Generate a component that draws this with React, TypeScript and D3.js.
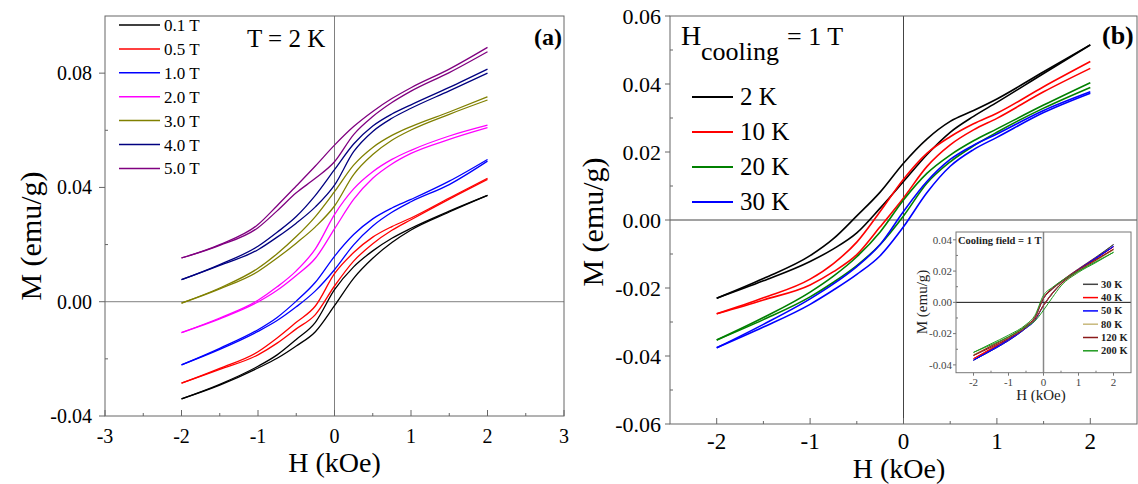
import React from "react";
import * as d3 from "d3";

const FONT = '"Liberation Serif", "Times New Roman", "DejaVu Serif", serif';

// ---------- Panel (a): T = 2 K, different cooling fields ----------
const gridA = [-2, -1.5, -1, -0.75, -0.5, -0.25, 0, 0.25, 0.5, 0.75, 1, 1.5, 2];
const labelsA = ["0.1 T", "0.5 T", "1.0 T", "2.0 T", "3.0 T", "4.0 T", "5.0 T"];
const colorsA = ["#000000", "#ff0000", "#0000ff", "#ff00ff", "#808000", "#000080", "#800080"];
// upper (field-decreasing) and lower (field-increasing) branches
const a01Up = [-0.034, -0.0289, -0.0226, -0.0186, -0.0132, -0.0072, 0.0042, 0.0122, 0.0178, 0.0222, 0.0257, 0.0317, 0.0372];
const a01Lo = [-0.034, -0.0292, -0.0232, -0.0198, -0.0155, -0.0105, -0.0014, 0.0082, 0.0152, 0.0207, 0.0251, 0.0314, 0.0372];
const a05Up = [-0.0285, -0.0233, -0.0175, -0.0127, -0.0072, -0.0015, 0.0098, 0.0172, 0.0226, 0.0263, 0.0293, 0.0363, 0.0432];
const a05Lo = [-0.0285, -0.0237, -0.0186, -0.0145, -0.0095, -0.0045, 0.0055, 0.0142, 0.0203, 0.025, 0.0287, 0.0359, 0.0428];
const a10Up = [-0.0221, -0.0163, -0.0098, -0.0055, 0.0002, 0.0068, 0.0159, 0.0235, 0.029, 0.0328, 0.0358, 0.0422, 0.0498];
const a10Lo = [-0.0221, -0.0167, -0.0104, -0.0066, -0.0018, 0.0038, 0.0112, 0.0199, 0.0265, 0.0313, 0.035, 0.041, 0.0492];
const a20Up = [-0.0108, -0.0057, 0.0005, 0.0052, 0.0108, 0.0185, 0.0305, 0.0395, 0.0455, 0.0498, 0.053, 0.058, 0.0618];
const a20Lo = [-0.0108, -0.006, -0.0001, 0.004, 0.0092, 0.0152, 0.0255, 0.0358, 0.0432, 0.0482, 0.0519, 0.0568, 0.0609];
const a30Up = [-0.0005, 0.0048, 0.0117, 0.0168, 0.0228, 0.0298, 0.0385, 0.0478, 0.054, 0.0582, 0.0613, 0.0664, 0.0717];
const a30Lo = [-0.0005, 0.0045, 0.0106, 0.0153, 0.0205, 0.0262, 0.0335, 0.0445, 0.0515, 0.0565, 0.0601, 0.0656, 0.0706];
const a40Up = [0.0077, 0.013, 0.0194, 0.0243, 0.0298, 0.0372, 0.0462, 0.0552, 0.0615, 0.0657, 0.0689, 0.075, 0.0814];
const a40Lo = [0.0077, 0.0127, 0.0182, 0.0226, 0.0275, 0.0332, 0.0408, 0.0525, 0.0596, 0.0642, 0.0677, 0.0738, 0.08];
const a50Up = [0.0153, 0.02, 0.027, 0.0336, 0.0405, 0.0475, 0.0548, 0.0613, 0.0666, 0.0711, 0.0749, 0.0814, 0.089];
const a50Lo = [0.0153, 0.0197, 0.0259, 0.0318, 0.0381, 0.0432, 0.049, 0.0585, 0.0648, 0.0697, 0.0737, 0.0802, 0.0875];
const seriesA = [
  [a01Up, a01Lo], [a05Up, a05Lo], [a10Up, a10Lo], [a20Up, a20Lo],
  [a30Up, a30Lo], [a40Up, a40Lo], [a50Up, a50Lo],
];
const xTicksA = [-3, -2, -1, 0, 1, 2, 3];
const xMinorA = [-2.5, -1.5, -0.5, 0.5, 1.5, 2.5];
const yTicksA = [-0.04, 0, 0.04, 0.08];
const yMinorA = [-0.02, 0.02, 0.06];

// ---------- Panel (b): H_cooling = 1 T, different temperatures ----------
const gridB = [-2, -1.5, -1, -0.75, -0.5, -0.25, 0, 0.25, 0.5, 0.75, 1, 1.5, 2];
const labelsB = ["2 K", "10 K", "20 K", "30 K"];
const colorsB = ["#000000", "#ff0000", "#008000", "#0000ff"];
const b2Up = [-0.023, -0.0172, -0.0105, -0.0055, 0.0012, 0.0082, 0.0167, 0.0238, 0.029, 0.0322, 0.0356, 0.0436, 0.0515];
const b2Lo = [-0.023, -0.0179, -0.0122, -0.0085, -0.0038, 0.0035, 0.0113, 0.0192, 0.0258, 0.0305, 0.0346, 0.0431, 0.0515];
const b10Up = [-0.0276, -0.0229, -0.0174, -0.0128, -0.0065, 0.0025, 0.012, 0.0196, 0.0245, 0.0283, 0.0314, 0.0392, 0.0466];
const b10Lo = [-0.0276, -0.0235, -0.0191, -0.0152, -0.0102, -0.002, 0.0065, 0.0157, 0.0221, 0.0265, 0.0299, 0.0377, 0.0446];
const b20Up = [-0.0353, -0.0287, -0.0212, -0.0165, -0.0108, -0.0035, 0.0059, 0.0137, 0.0191, 0.0233, 0.0268, 0.0338, 0.0404];
const b20Lo = [-0.0353, -0.0293, -0.0226, -0.0183, -0.0134, -0.0072, 0.0012, 0.0108, 0.0171, 0.0218, 0.0258, 0.0329, 0.039];
const b30Up = [-0.0376, -0.0307, -0.0232, -0.0188, -0.0137, -0.0072, 0.0025, 0.0113, 0.0178, 0.022, 0.0253, 0.0322, 0.0377];
const b30Lo = [-0.0376, -0.0315, -0.0248, -0.0206, -0.016, -0.0105, -0.002, 0.008, 0.0158, 0.0207, 0.0243, 0.0316, 0.0373];
const seriesB = [[b2Up, b2Lo], [b10Up, b10Lo], [b20Up, b20Lo], [b30Up, b30Lo]];
const xTicksB = [-2, -1, 0, 1, 2];
const xMinorB = [-1.5, -0.5, 0.5, 1.5];
const yTicksB = [-0.06, -0.04, -0.02, 0, 0.02, 0.04, 0.06];
const yMinorB = [-0.05, -0.03, -0.01, 0.01, 0.03, 0.05];

// ---------- Inset: cooling field = 1 T, higher temperatures ----------
const gridI = [-2, -1.5, -1, -0.5, -0.25, 0, 0.25, 0.5, 1, 1.5, 2];
const labelsI = ["30 K", "40 K", "50 K", "80 K", "120 K", "200 K"];
const colorsI = ["#444444", "#ff0000", "#0000ff", "#c8b97c", "#8b1a1a", "#1f9a1f"];
const i30Up = [-0.037, -0.03, -0.0235, -0.0155, -0.01, 0.003, 0.009, 0.0135, 0.0215, 0.029, 0.037];
const i30Lo = [-0.037, -0.031, -0.0245, -0.0165, -0.0115, -0.002, 0.006, 0.012, 0.021, 0.0285, 0.037];
const i40Up = [-0.036, -0.0295, -0.023, -0.015, -0.0098, 0.0028, 0.0088, 0.0133, 0.0212, 0.0285, 0.0355];
const i40Lo = [-0.036, -0.0302, -0.024, -0.016, -0.0112, -0.0018, 0.0058, 0.0118, 0.0205, 0.028, 0.0355];
const i50Up = [-0.037, -0.0305, -0.0238, -0.0155, -0.0102, 0.0025, 0.0085, 0.013, 0.021, 0.0285, 0.0358];
const i50Lo = [-0.037, -0.031, -0.0245, -0.0165, -0.0118, -0.002, 0.0055, 0.0118, 0.0205, 0.028, 0.0358];
const i80Up = [-0.0335, -0.0278, -0.022, -0.0148, -0.0098, 0.0025, 0.0082, 0.0128, 0.0205, 0.027, 0.0335];
const i80Lo = [-0.0335, -0.0285, -0.0228, -0.0158, -0.011, -0.002, 0.0055, 0.0115, 0.0198, 0.0265, 0.0335];
const i120Up = [-0.034, -0.028, -0.0222, -0.015, -0.0098, 0.0025, 0.0085, 0.013, 0.0208, 0.0275, 0.034];
const i120Lo = [-0.034, -0.0288, -0.023, -0.016, -0.011, -0.002, 0.0055, 0.0118, 0.02, 0.027, 0.034];
const i200Up = [-0.032, -0.0265, -0.021, -0.0142, -0.0085, 0.0045, 0.0095, 0.0135, 0.02, 0.026, 0.032];
const i200Lo = [-0.032, -0.0272, -0.022, -0.0155, -0.012, -0.005, 0.003, 0.0105, 0.0192, 0.0255, 0.032];
const seriesI = [
  [i30Up, i30Lo], [i40Up, i40Lo], [i50Up, i50Lo],
  [i80Up, i80Lo], [i120Up, i120Lo], [i200Up, i200Lo],
];
const xTicksI = [-2, -1, 0, 1, 2];
const xMinorI = [-1.5, -0.5, 0.5, 1.5];
const yTicksI = [-0.04, -0.02, 0, 0.02, 0.04];
const yMinorI = [-0.03, -0.01, 0.01, 0.03];

const fmt2 = (v: number) => (Math.abs(v) < 1e-9 ? "0.00" : v.toFixed(2));
const fmtInt = (v: number) => String(Math.round(v));

function branchPath(x: any, y: any, grid: number[], vals: number[]) {
  const line = d3
    .line<number>()
    .x((_, i) => x(grid[i]))
    .y((d) => y(d))
    .curve(d3.curveMonotoneX);
  return line(vals) || "";
}

export default function App() {
  const xA = d3.scaleLinear().domain([-3, 3]).range([105, 564]);
  const yA = d3.scaleLinear().domain([-0.04, 0.1]).range([416, 16]);
  const xB = d3.scaleLinear().domain([-2.5, 2.5]).range([670, 1137]);
  const yB = d3.scaleLinear().domain([-0.06, 0.06]).range([424, 16]);
  const xI = d3.scaleLinear().domain([-2.5, 2.5]).range([956, 1131]);
  const yI = d3.scaleLinear().domain([-0.045, 0.045]).range([372.7, 232]);

  const frame = "#666666";

  return (
    <svg
      width={1138}
      height={484}
      style={{ position: "absolute", left: 0, top: 0, background: "#ffffff", fontFamily: FONT }}
      fontFamily={FONT}
    >
      <style>{`text { font-family: ${FONT}; }`}</style>
      <rect x={0} y={0} width={1138} height={484} fill="#ffffff" />

      {/* ================= Panel (a) ================= */}
      <g>
        <line x1={xA(0)} x2={xA(0)} y1={yA(0.1)} y2={yA(-0.04)} stroke="#808080" strokeWidth={1} />
        <line x1={xA(-3)} x2={xA(3)} y1={yA(0)} y2={yA(0)} stroke="#808080" strokeWidth={1} />
        {seriesA.map((s, k) => (
          <g key={k} fill="none" stroke={colorsA[k]} strokeWidth={1.3}>
            <path d={branchPath(xA, yA, gridA, s[0])} />
            <path d={branchPath(xA, yA, gridA, s[1])} />
          </g>
        ))}
        <rect x={xA(-3)} y={yA(0.1)} width={xA(3) - xA(-3)} height={yA(-0.04) - yA(0.1)} fill="none" stroke={frame} strokeWidth={1} />
        {xTicksA.map((t) => (
          <g key={"xa" + t}>
            <line x1={xA(t)} x2={xA(t)} y1={yA(-0.04)} y2={yA(-0.04) - 6} stroke={frame} />
            <text x={xA(t)} y={443} fontSize={20} textAnchor="middle" fill="#000">{fmtInt(t)}</text>
          </g>
        ))}
        {xMinorA.map((t) => (
          <line key={"xam" + t} x1={xA(t)} x2={xA(t)} y1={yA(-0.04)} y2={yA(-0.04) - 3} stroke={frame} />
        ))}
        {yTicksA.map((t) => (
          <g key={"ya" + t}>
            <line x1={xA(-3) - 6} x2={xA(-3)} y1={yA(t)} y2={yA(t)} stroke={frame} />
            <text x={92} y={yA(t)} dy="0.35em" fontSize={20} textAnchor="end" fill="#000">{fmt2(t)}</text>
          </g>
        ))}
        {yMinorA.map((t) => (
          <line key={"yam" + t} x1={xA(-3)} x2={xA(-3) + 3} y1={yA(t)} y2={yA(t)} stroke={frame} />
        ))}
        <text x={xA(0)} y={472} fontSize={28} textAnchor="middle">H (kOe)</text>
        <text transform={`translate(41, ${236}) rotate(-90)`} fontSize={30} textAnchor="middle">M (emu/g)</text>
        {labelsA.map((lab, k) => {
          const ly = 25 + k * 23.9;
          return (
            <g key={"la" + k}>
              <line x1={119} x2={160} y1={ly} y2={ly} stroke={colorsA[k]} strokeWidth={1.5} />
              <text x={164} y={ly + 6} fontSize={17}>{lab}</text>
            </g>
          );
        })}
        <text x={247} y={47} fontSize={25}>T = 2 K</text>
        <text x={534} y={45} fontSize={24} fontWeight="bold">(a)</text>
      </g>

      {/* ================= Panel (b) ================= */}
      <g>
        <line x1={xB(0)} x2={xB(0)} y1={yB(0.06)} y2={yB(-0.06)} stroke="#444444" strokeWidth={1} />
        <line x1={xB(-2.5)} x2={xB(2.5)} y1={yB(0)} y2={yB(0)} stroke="#444444" strokeWidth={1} />
        {seriesB.map((s, k) => (
          <g key={k} fill="none" stroke={colorsB[k]} strokeWidth={1.6}>
            <path d={branchPath(xB, yB, gridB, s[0])} />
            <path d={branchPath(xB, yB, gridB, s[1])} />
          </g>
        ))}
        <rect x={xB(-2.5)} y={yB(0.06)} width={xB(2.5) - xB(-2.5)} height={yB(-0.06) - yB(0.06)} fill="none" stroke={frame} strokeWidth={1} />
        {xTicksB.map((t) => (
          <g key={"xb" + t}>
            <line x1={xB(t)} x2={xB(t)} y1={yB(-0.06)} y2={yB(-0.06) - 6} stroke={frame} />
            <text x={xB(t)} y={449} fontSize={23} textAnchor="middle">{fmtInt(t)}</text>
          </g>
        ))}
        {xMinorB.map((t) => (
          <line key={"xbm" + t} x1={xB(t)} x2={xB(t)} y1={yB(-0.06)} y2={yB(-0.06) - 3} stroke={frame} />
        ))}
        {yTicksB.map((t) => (
          <g key={"yb" + t}>
            <line x1={xB(-2.5) - 5} x2={xB(-2.5)} y1={yB(t)} y2={yB(t)} stroke={frame} />
            <text x={661} y={yB(t)} dy="0.35em" fontSize={22} textAnchor="end">{fmt2(t)}</text>
          </g>
        ))}
        {yMinorB.map((t) => (
          <line key={"ybm" + t} x1={xB(-2.5)} x2={xB(-2.5) + 3} y1={yB(t)} y2={yB(t)} stroke={frame} />
        ))}
        <text x={899} y={478} fontSize={28} textAnchor="middle">H (kOe)</text>
        <text transform={`translate(603, ${222}) rotate(-90)`} fontSize={30} textAnchor="middle">M (emu/g)</text>
        <text x={681} y={45} fontSize={28}>H</text>
        <text x={701} y={60} fontSize={26}>cooling</text>
        <text x={787} y={45} fontSize={26}>= 1 T</text>
        {labelsB.map((lab, k) => {
          const ly = 97 + k * 35;
          return (
            <g key={"lb" + k}>
              <line x1={692} x2={733} y1={ly} y2={ly} stroke={colorsB[k]} strokeWidth={1.8} />
              <text x={740} y={ly + 8} fontSize={25}>{lab}</text>
            </g>
          );
        })}
        <text x={1102} y={44} fontSize={26} fontWeight="bold">(b)</text>
      </g>

      {/* ================= Inset ================= */}
      <g>
        <rect x={xI(-2.5)} y={yI(0.045)} width={xI(2.5) - xI(-2.5)} height={yI(-0.045) - yI(0.045)} fill="#ffffff" />
        <line x1={xI(0)} x2={xI(0)} y1={yI(0.045)} y2={yI(-0.045)} stroke="#888888" strokeWidth={1.5} />
        <line x1={xI(-2.5)} x2={xI(2.5)} y1={yI(0)} y2={yI(0)} stroke="#111111" strokeWidth={1} />
        {seriesI.map((s, k) => (
          <g key={k} fill="none" stroke={colorsI[k]} strokeWidth={1}>
            <path d={branchPath(xI, yI, gridI, s[0])} />
            <path d={branchPath(xI, yI, gridI, s[1])} />
          </g>
        ))}
        <rect x={xI(-2.5)} y={yI(0.045)} width={xI(2.5) - xI(-2.5)} height={yI(-0.045) - yI(0.045)} fill="none" stroke="#777777" strokeWidth={1} />
        {xTicksI.map((t) => (
          <g key={"xi" + t}>
            <line x1={xI(t)} x2={xI(t)} y1={yI(-0.045)} y2={yI(-0.045) + 3} stroke="#777" />
            <text x={xI(t)} y={386} fontSize={11} textAnchor="middle" fill="#444">{fmtInt(t)}</text>
          </g>
        ))}
        {xMinorI.map((t) => (
          <line key={"xim" + t} x1={xI(t)} x2={xI(t)} y1={yI(-0.045)} y2={yI(-0.045) - 2} stroke="#777" />
        ))}
        {yTicksI.map((t) => (
          <g key={"yi" + t}>
            <line x1={xI(-2.5) - 3} x2={xI(-2.5)} y1={yI(t)} y2={yI(t)} stroke="#777" />
            <text x={952} y={yI(t)} dy="0.35em" fontSize={11} textAnchor="end" fill="#444">{fmt2(t)}</text>
          </g>
        ))}
        {yMinorI.map((t) => (
          <line key={"yim" + t} x1={xI(-2.5)} x2={xI(-2.5) + 2} y1={yI(t)} y2={yI(t)} stroke="#777" />
        ))}
        <text x={1041} y={400} fontSize={15} textAnchor="middle" fill="#222">H (kOe)</text>
        <text transform={`translate(927, 302) rotate(-90)`} fontSize={15} textAnchor="middle" fill="#222">M (emu/g)</text>
        <text x={958} y={244} fontSize={10.5} fontWeight="bold" fill="#222">Cooling field = 1 T</text>
        {labelsI.map((lab, k) => {
          const ly = 284.3 + k * 13.3;
          return (
            <g key={"li" + k}>
              <line x1={1083} x2={1098} y1={ly} y2={ly} stroke={colorsI[k]} strokeWidth={1.5} />
              <text x={1101} y={ly + 3.5} fontSize={10.5} fontWeight="bold" fill="#222">{lab}</text>
            </g>
          );
        })}
      </g>
    </svg>
  );
}
